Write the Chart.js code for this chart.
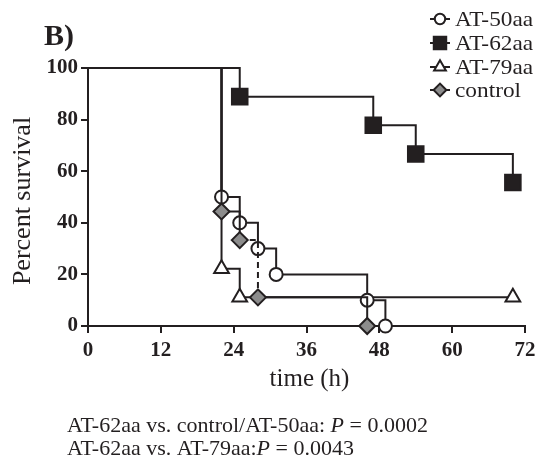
<!DOCTYPE html>
<html>
<head>
<meta charset="utf-8">
<script src="https://cdn.jsdelivr.net/npm/chart.js@4.4.1/dist/chart.umd.min.js"></script>
<style>
  html, body { margin: 0; padding: 0; background: #fff; }
  #wrap { width: 555px; height: 467px; }
</style>
</head>
<body>
<div id="wrap"><canvas id="survChart" width="555" height="467"></canvas></div>
<script>
// survival data (time in hours, percent surviving)
const seriesNames = ['AT-50aa', 'AT-62aa', 'AT-79aa', 'control'];
const at50Time = [0, 22, 25, 28, 31, 46, 49];
const at50Surv = [100, 50, 40, 30, 20, 10, 0];
const at62Time = [0, 25, 47, 54, 70];
const at62Surv = [100, 88.9, 77.8, 66.7, 55.6];
const at79Time = [0, 22, 25, 70];
const at79Surv = [100, 22.2, 11.1, 11.1];
const ctrlTime = [0, 22, 25, 28, 46];
const ctrlSurv = [100, 44.4, 33.3, 11.1, 0];
const xTicks = [0, 12, 24, 36, 48, 60, 72];
const yTicks = [0, 20, 40, 60, 80, 100];

const INK = '#231f20';
const SERIF = "'Liberation Serif', 'Times New Roman', serif";

const toPoints = (t, s) => t.map((x, i) => ({ x: x, y: s[i] }));
// no marker on the starting point
const radii = (n, r) => Array.from({ length: n }, (_, i) => (i === 0 ? 0 : r));

const styles = [
    { pointStyle: 'circle', radius: 6.5, fill: '#ffffff' },
    { pointStyle: 'rect', radius: 11, fill: INK },
    { pointStyle: 'triangle', radius: 8.5, fill: '#ffffff' },
    { pointStyle: 'rectRot', radius: 8, fill: '#8c8c8c' }
];

const makeSet = (i, t, s, extra) => Object.assign({
    label: seriesNames[i],
    data: toPoints(t, s),
    stepped: 'before',
    borderColor: INK,
    borderWidth: 2,
    pointStyle: styles[i].pointStyle,
    pointRadius: radii(t.length, styles[i].radius),
    pointHoverRadius: radii(t.length, styles[i].radius),
    pointBackgroundColor: styles[i].fill,
    pointBorderColor: INK,
    pointBorderWidth: 2,
    fill: false,
    clip: false
}, extra || {});

// text with a slight horizontal stretch, like the source figure
const stretchText = (ctx, txt, x, y, sx) => {
    ctx.save();
    ctx.translate(x, y);
    ctx.scale(sx, 1);
    ctx.fillText(txt, 0, 0);
    ctx.restore();
    return ctx.measureText(txt).width * sx;
};

// labels, legend and caption
const textPlugin = {
    id: 'textPlugin',
    afterDraw(chart) {
        const ctx = chart.ctx;
        const area = chart.chartArea;
        ctx.save();
        ctx.fillStyle = INK;

        ctx.font = 'bold 30px ' + SERIF;
        ctx.textAlign = 'left';
        ctx.textBaseline = 'alphabetic';
        ctx.fillText('B)', 44, 45);

        ctx.font = '25px ' + SERIF;
        ctx.textAlign = 'center';
        ctx.textBaseline = 'middle';
        ctx.fillText('time (h)', (area.left + area.right) / 2 + 3, 379);

        ctx.save();
        ctx.translate(23, 201);
        ctx.rotate(-Math.PI / 2);
        ctx.font = '26px ' + SERIF;
        ctx.fillText('Percent survival', 0, 0);
        ctx.restore();

        // legend
        const rows = [19, 43, 67, 90];
        ctx.textAlign = 'left';
        ctx.font = '22px ' + SERIF;
        seriesNames.forEach((name, i) => {
            const y = rows[i];
            ctx.strokeStyle = INK;
            ctx.lineWidth = 2;
            ctx.beginPath();
            ctx.moveTo(430, y);
            ctx.lineTo(450, y);
            ctx.stroke();
            ctx.fillStyle = styles[i].fill;
            Chart.helpers.drawPoint(ctx, {
                pointStyle: styles[i].pointStyle,
                radius: styles[i].radius * 0.8,
                rotation: 0,
                borderWidth: 2
            }, 440, y);
            ctx.fillStyle = INK;
            stretchText(ctx, name, 455, y + 1, 1.06);
        });

        // caption with italic P
        const caption = [
            ['AT-62aa vs. control/AT-50aa: ', ' = 0.0002', 426],
            ['AT-62aa vs. AT-79aa:', ' = 0.0043', 449]
        ];
        caption.forEach(([pre, post, y]) => {
            let x = 67;
            ctx.font = '22px ' + SERIF;
            ctx.fillText(pre, x, y);
            x += ctx.measureText(pre).width;
            ctx.font = 'italic 22px ' + SERIF;
            ctx.fillText('P', x, y);
            x += ctx.measureText('P').width;
            ctx.font = '22px ' + SERIF;
            ctx.fillText(post, x, y);
        });
        ctx.restore();
    }
};

const survChart = new Chart(document.getElementById('survChart'), {
    type: 'line',
    data: {
        datasets: [
            makeSet(3, ctrlTime, ctrlSurv, {
                segment: { borderDash: (c) => (c.p1DataIndex === 3 ? [6, 4] : undefined) }
            }),
            makeSet(0, at50Time, at50Surv),
            makeSet(2, at79Time, at79Surv),
            makeSet(1, at62Time, at62Surv)
        ]
    },
    options: {
        responsive: false,
        animation: false,
        layout: { padding: { left: 0, right: 30, top: 68, bottom: 0 } },
        plugins: {
            legend: { display: false },
            tooltip: { enabled: false },
            title: { display: false }
        },
        scales: {
            x: {
                type: 'linear',
                min: 0,
                max: 72,
                afterBuildTicks: (axis) => { axis.ticks = xTicks.map((v) => ({ value: v })); },
                afterFit: (axis) => { axis.height = 141; },
                grid: {
                    drawOnChartArea: false,
                    drawTicks: true,
                    tickLength: 7,
                    color: INK,
                    lineWidth: 2
                },
                border: { display: true, color: INK, width: 2 },
                ticks: {
                    color: INK,
                    padding: 5,
                    maxRotation: 0,
                    font: { family: SERIF, size: 21, weight: 'bold' }
                }
            },
            y: {
                min: 0,
                max: 100,
                afterBuildTicks: (axis) => { axis.ticks = yTicks.map((v) => ({ value: v })); },
                afterFit: (axis) => { axis.width = 88; },
                grid: {
                    drawOnChartArea: false,
                    drawTicks: true,
                    tickLength: 7,
                    color: INK,
                    lineWidth: 2
                },
                border: { display: true, color: INK, width: 2 },
                ticks: {
                    color: INK,
                    padding: 3,
                    font: { family: SERIF, size: 21, weight: 'bold' }
                }
            }
        }
    },
    plugins: [textPlugin]
});
</script>
</body>
</html>
